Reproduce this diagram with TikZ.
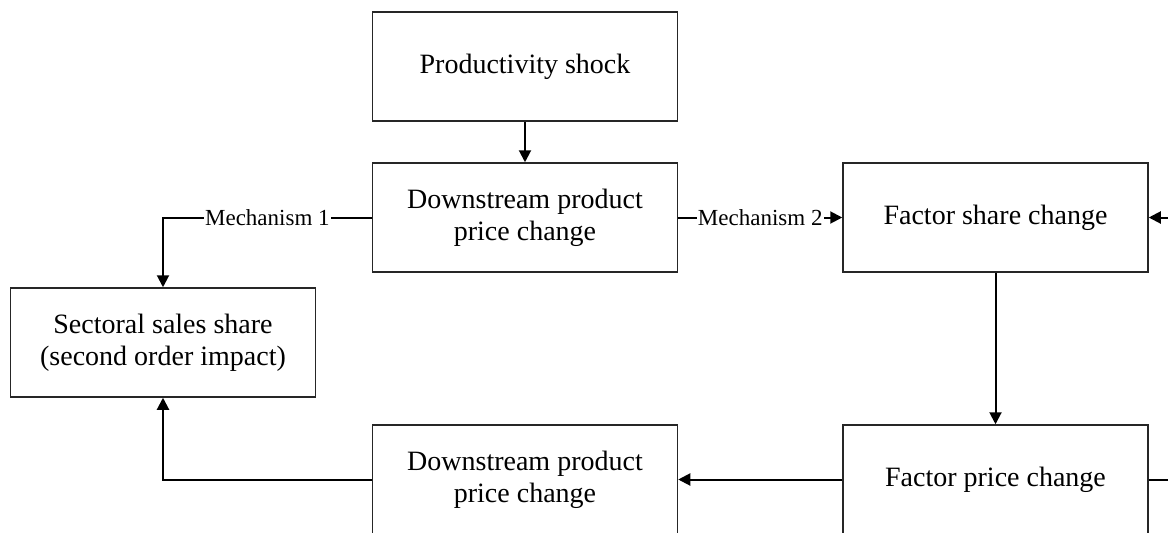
\documentclass[tikz,border=0pt]{standalone}
\usepackage{fontspec}
\setmainfont{Liberation Serif}
\usetikzlibrary{arrows.meta}
\begin{document}
\begin{tikzpicture}[x=1pt,y=-1pt,
  box/.style={draw=black!85, line width=1.5pt, minimum width=305pt, minimum height=109pt, align=center, font=\fontsize{28}{32}\selectfont, inner sep=0pt},
  conn/.style={line width=2pt, -{Triangle[length=12pt,width=12pt]}},
  plain/.style={line width=2pt},
  mech/.style={fill=white, font=\fontsize{23}{26}\selectfont, inner sep=1pt}]
\useasboundingbox (0,0) rectangle (1168,533);
\clip (0,0) rectangle (1168,533);
\node[box] (shock) at (525,66.5) {Productivity shock};
\node[box] (down1) at (525,217.5) {Downstream product\\price change};
\node[box] (fshare) at (995.5,217.5) {Factor share change};
\node[box] (sales) at (163,342.5) {Sectoral sales share\\(second order impact)};
\node[box] (fprice) at (995.5,479.5) {Factor price change};
\node[box] (down2) at (525,479.5) {Downstream product\\price change};
\coordinate (rin) at (1190,217.5);
\coordinate (rout) at (1190,479.5);
\draw[conn] (shock) -- (down1);
\draw[conn] (down1.west) -- node[mech] {Mechanism 1} (sales.north |- down1.west) -- (sales.north);
\draw[conn] (down1.east) -- node[mech] {Mechanism 2} (fshare.west);
\draw[conn] (fshare) -- (fprice);
\draw[conn] (fprice) -- (down2);
\draw[conn] (down2.west) -- (sales.south |- down2.west) -- (sales.south);
\draw[plain] (fprice.east) -- (rout);
\draw[conn] (rin) -- (fshare.east);
\end{tikzpicture}
\end{document}
